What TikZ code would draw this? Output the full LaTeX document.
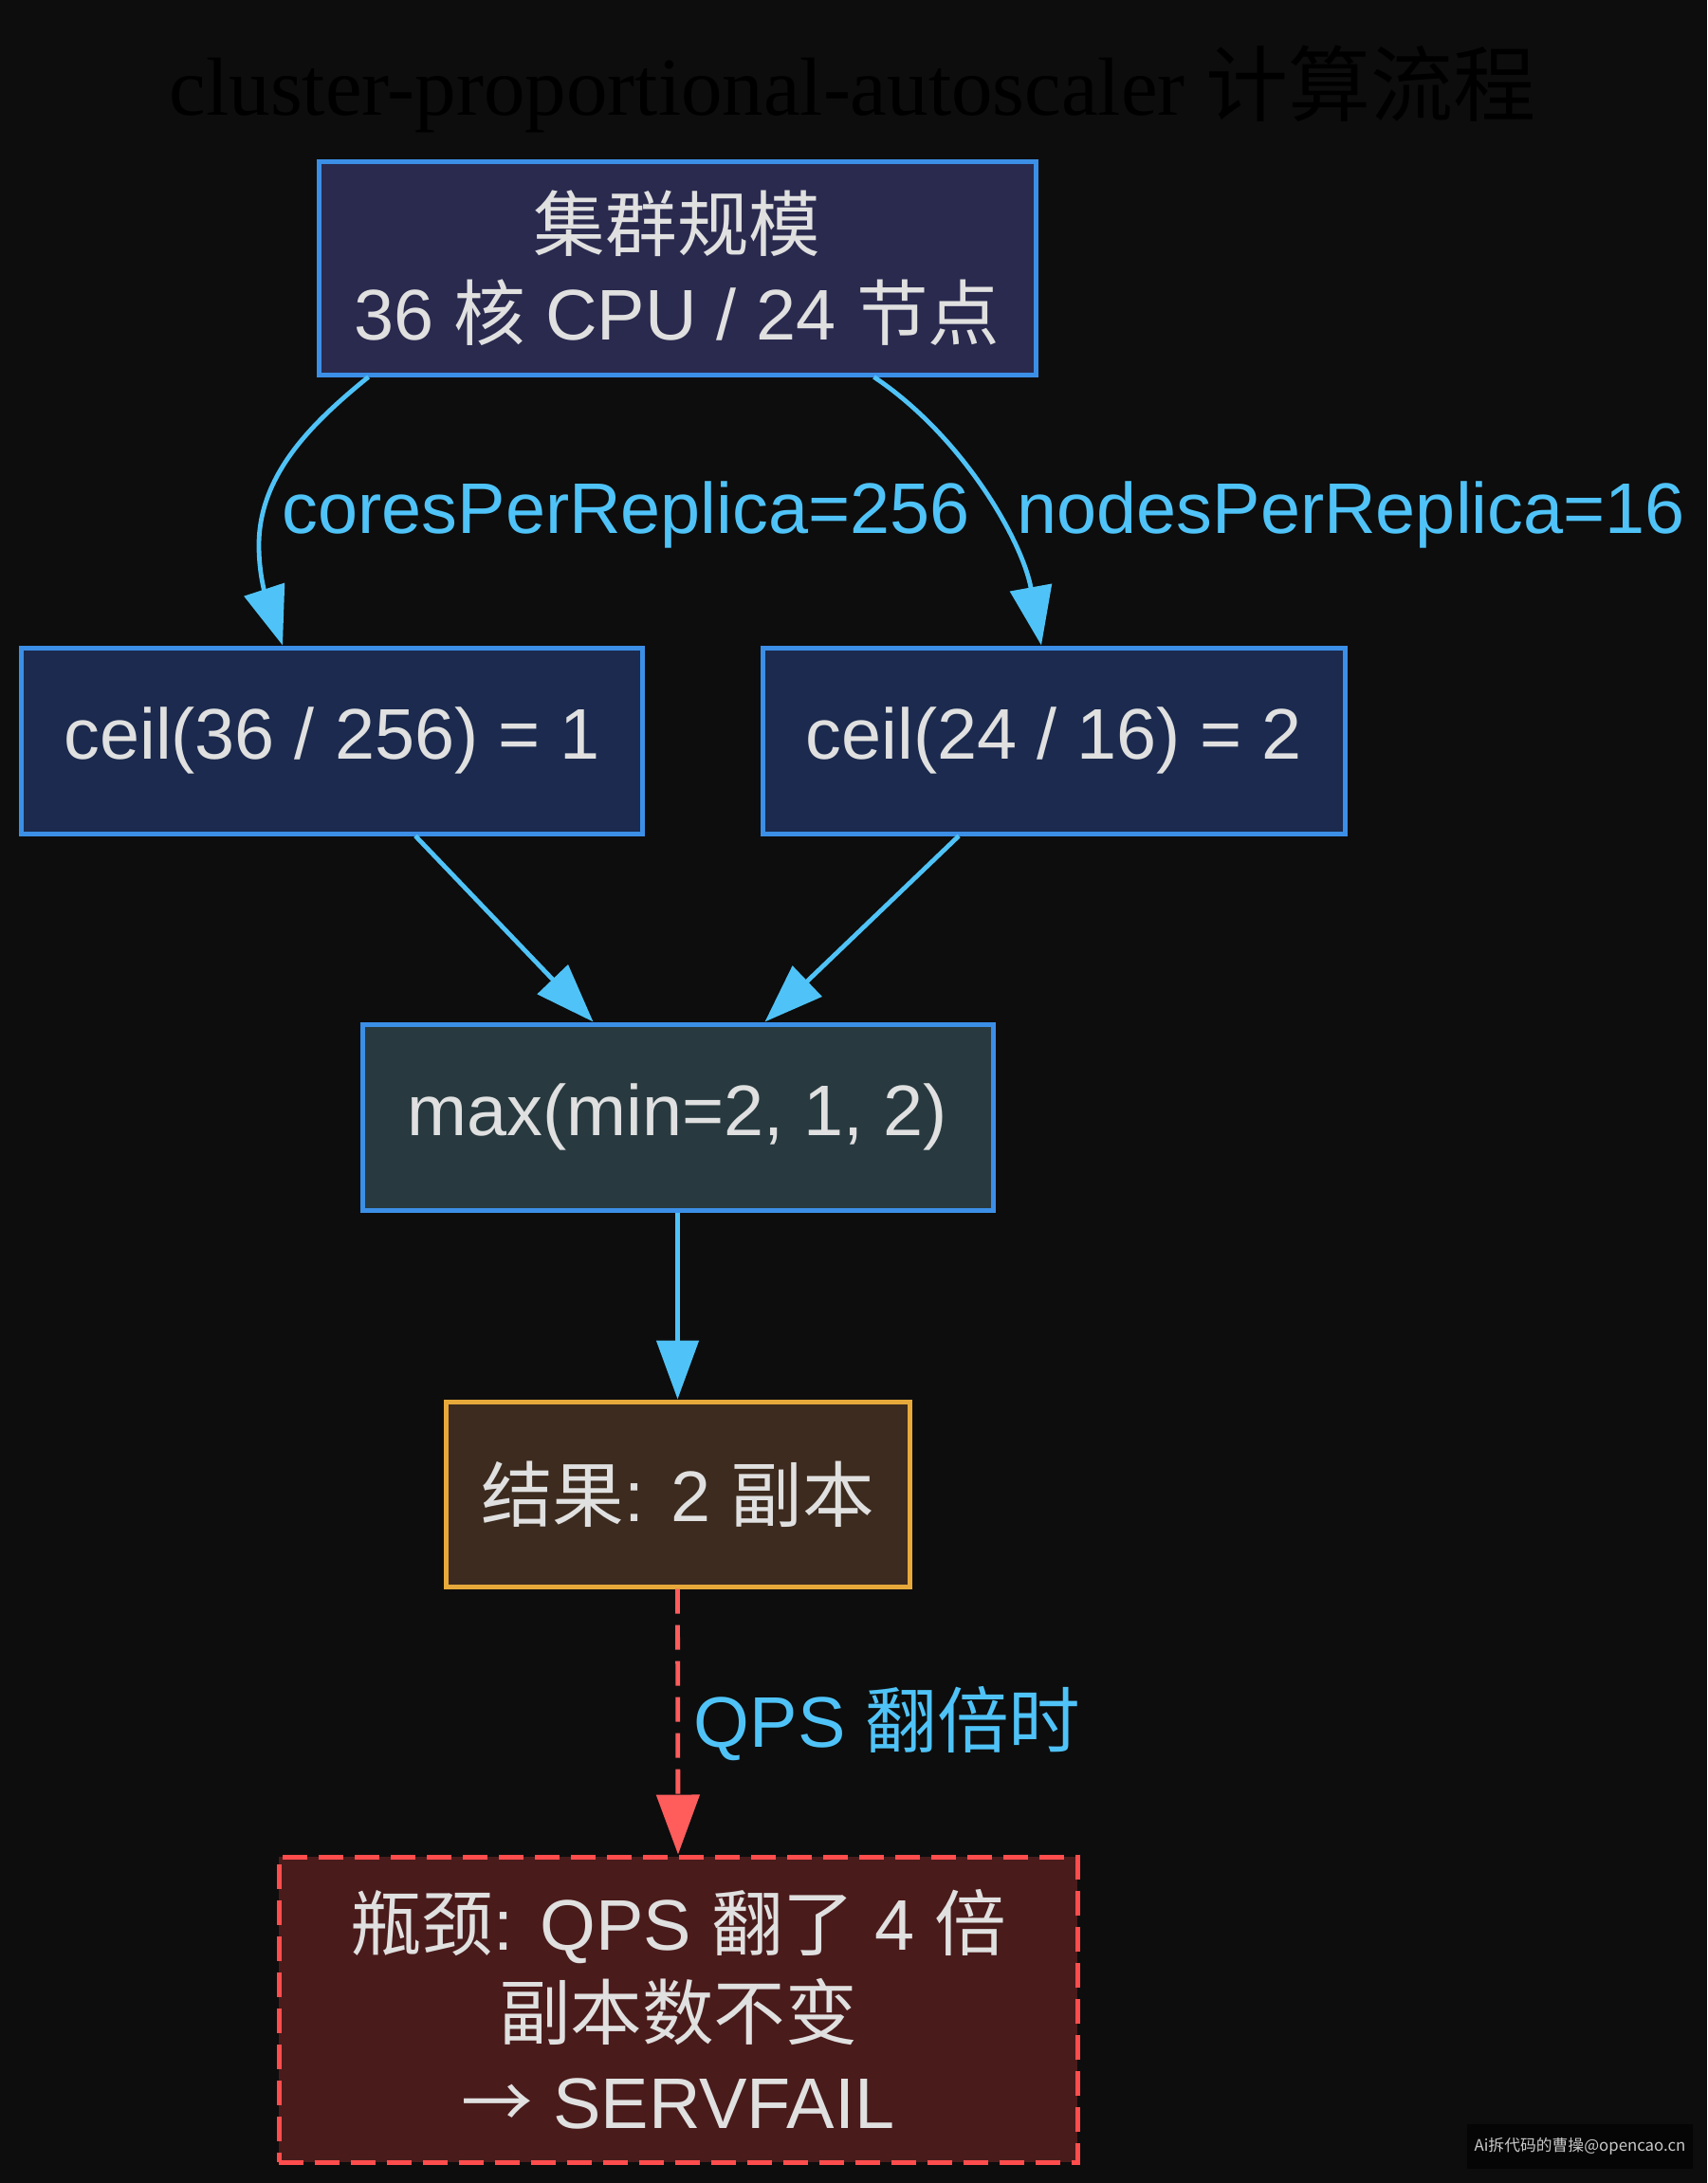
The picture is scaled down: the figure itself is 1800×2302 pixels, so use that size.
\documentclass[tikz,border=0pt]{standalone}
\usepackage{fontspec}
\setmainfont{Liberation Sans}
\newfontfamily\cjk{Noto Sans CJK SC}
\newfontfamily\titlefont{Liberation Serif}
\usetikzlibrary{arrows.meta,calc}
\definecolor{bgc}{HTML}{0D0D0D}
\definecolor{txt}{HTML}{E0E0E0}
\definecolor{bluebd}{HTML}{3C8FE6}
\definecolor{edgeblue}{HTML}{4FC3F7}
\definecolor{topfill}{HTML}{2A2A4F}
\definecolor{calcfill}{HTML}{1B2A4E}
\definecolor{maxfill}{HTML}{283A40}
\definecolor{resfill}{HTML}{3D2B1F}
\definecolor{resbd}{HTML}{E6A93A}
\definecolor{bnfill}{HTML}{4A1B1B}
\definecolor{bnbd}{HTML}{FF4D4D}
\definecolor{redarrow}{HTML}{FF5C5C}
\definecolor{wmfill}{HTML}{050505}
\definecolor{wmtext}{HTML}{C8C8C8}
\begin{document}
\begin{tikzpicture}[x=0.25pt,y=-0.25pt,
  box/.style={draw=bluebd, line width=1.25pt, inner sep=0pt, align=center,
    text=txt, font=\fontsize{18.9}{23.5}\selectfont},
  flow/.style={draw=edgeblue, line width=1.2pt,
    -{Triangle[length=15.5pt,width=11pt]}, edgeblue},
  elabel/.style={text=edgeblue, inner sep=0pt, anchor=base west,
    font=\fontsize{18.9}{23}\selectfont},
  redline/.style={draw=redarrow, line width=1.2pt, dash pattern=on 6.5pt off 3pt,
    -{Triangle[length=15.75pt,width=11.25pt]}, redarrow}]
\fill[bgc] (0,0) rectangle (1800,2302);
\useasboundingbox (0,0) rectangle (1800,2302);

\node[anchor=base, inner sep=0pt, text=black, font=\fontsize{21.75}{26}\titlefont] (title) at (899,122)
  {cluster-proportional-autoscaler {\cjk 计算流程}};

\node[box, fill=topfill, minimum width=189pt, minimum height=56.25pt] (top) at (714,282.5)
  {{\cjk 集群规模}\\36 {\cjk 核} CPU / 24 {\cjk 节点}};
\node[box, fill=calcfill, minimum width=163.75pt, minimum height=49pt] (cl) at (350,781)
  {ceil(36 / 256) = 1};
\node[box, fill=calcfill, minimum width=153.5pt, minimum height=49pt] (cr) at (1111.5,781)
  {ceil(24 / 16) = 2};
\node[box, fill=maxfill, minimum width=166.25pt, minimum height=49pt] (mx) at (714.5,1178)
  {max(min=2, 1, 2)};
\node[box, draw=resbd, fill=resfill, minimum width=122.25pt, minimum height=48.75pt] (res) at (714.5,1575.5)
  {{\cjk 结果}: 2 {\cjk 副本}};
\node[box, draw=bnbd, fill=bnfill, dash pattern=on 6.5pt off 3pt, minimum width=210.5pt, minimum height=80.5pt] (bn) at (715,2119)
  {{\cjk 瓶颈}: QPS {\cjk 翻了} 4 {\cjk 倍}\\{\cjk 副本数不变}\\{\cjk →} SERVFAIL};

\draw[flow] ($(top.south west)+(55,0)$) .. controls (330,445) and (273,500) .. (273,575)
  .. controls (273,620) and (288,650) .. ($(cl.north west)+(278,0)$);
\draw[flow] ($(top.south west)+(588,0)$) .. controls (1015,460) and (1078,570) .. ($(cr.north west)+(296,0)$);
\draw[flow] ($(cl.south west)+(418,0)$) -- ($(mx.north west)+(246,0)$);
\draw[flow] ($(cr.south west)+(209,0)$) -- ($(mx.north west)+(427,0)$);
\draw[flow] (mx.south) -- (res.north);
\draw[redline] (res.south) -- (bn.north);

\node[elabel] (lbl1) at (297,562) {coresPerReplica=256};
\node[elabel] (lbl2) at (1072,562) {nodesPerReplica=16};
\node[elabel] (lbl3) at (731,1842) {QPS {\cjk 翻倍时}};

\node[fill=wmfill, minimum width=59.5pt, minimum height=11.75pt, inner sep=0pt, text=wmtext,
  font=\fontsize{4.2}{5}\cjk] (wm) at (1666,2263.5) {Ai拆代码的曹操@opencao.cn};
\end{tikzpicture}
\end{document}
